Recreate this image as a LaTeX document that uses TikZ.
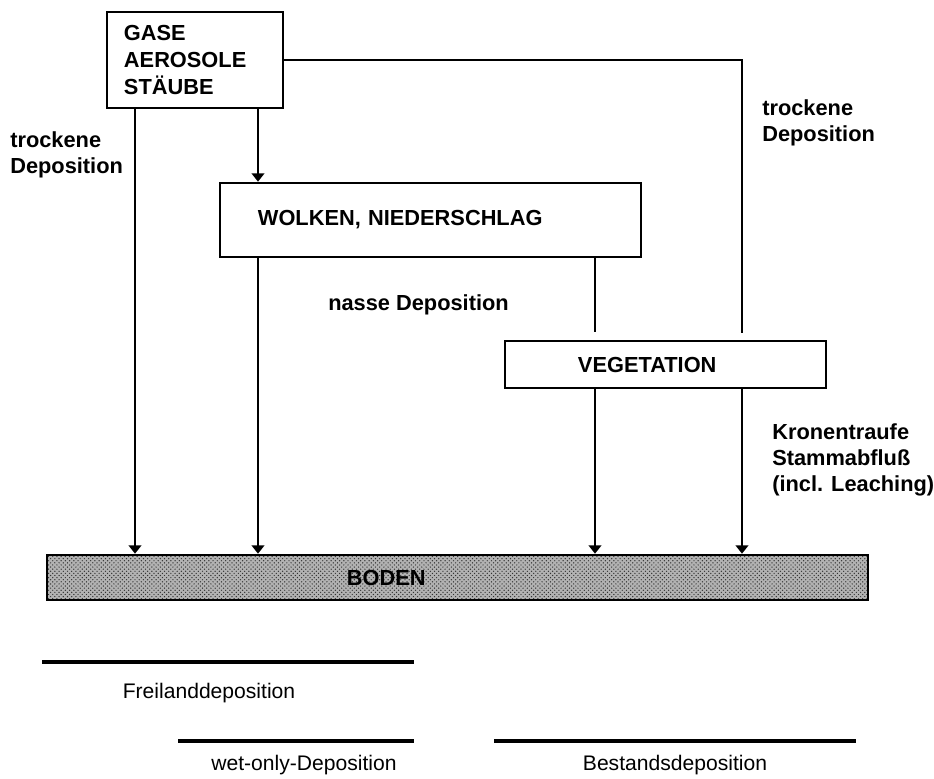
\documentclass[tikz,border=0pt]{standalone}
\usepackage{fontspec}
\setmainfont{Liberation Sans}
\usetikzlibrary{arrows.meta,patterns}

\newcommand{\lblfont}{\fontsize{15.5pt}{18.5pt}\selectfont\bfseries}
\newcommand{\capfont}{\fontsize{15pt}{18pt}\selectfont}

\tikzset{
  box/.style={draw, line width=1.8pt, align=left, inner ysep=0pt, font=\lblfont},
  arr/.style={line width=1.6pt, -{Triangle[width=9pt,length=6pt]}},
  plain/.style={line width=1.6pt},
  txt/.style={inner sep=0pt, align=left, font=\lblfont},
  bar/.style={line width=2.6pt},
}

\begin{document}
\begin{tikzpicture}[x=0.025cm, y=-0.025cm]
\useasboundingbox (0,0) rectangle (934,778);

% boxes
\node[box, minimum width=4.4cm, minimum height=2.4cm, inner xsep=0.425cm,
  text width=3.55cm, font=\fontsize{15.5pt}{19.1pt}\selectfont\bfseries]
  (src) at (195,60) {GASE\\AEROSOLE\\STÄUBE};
\node[box, minimum width=10.525cm, minimum height=1.85cm, inner xsep=0.95cm,
  text width=8.625cm] (wolken) at (430.5,220) {WOLKEN, NIEDERSCHLAG};
\node[box, minimum width=8.025cm, minimum height=1.175cm, inner xsep=1.825cm,
  text width=4.375cm] (veg) at (665.5,364.5) {VEGETATION};
\node[box, minimum width=20.525cm, minimum height=1.125cm, inner xsep=7.5cm,
  text width=5.525cm, preaction={fill=gray!60}, pattern=crosshatch dots,
  pattern color=black!80] (boden) at (457.5,577.5) {BODEN};

% columns
\coordinate (colA) at (135,0);
\coordinate (colB) at (258,0);
\coordinate (colC) at (595,0);
\coordinate (colD) at (742,0);
\coordinate (vegtopC) at (595,332);
\coordinate (vegtopD) at (742,333);

% connectors
\draw[arr] (src.south -| colA) -- (boden.north -| colA);
\draw[arr] (src.south -| colB) -- (wolken.north -| colB);
\draw[arr] (wolken.south -| colB) -- (boden.north -| colB);
\draw[plain] (wolken.south -| colC) -- (vegtopC);
\draw[plain] (src.east) -| (vegtopD);
\draw[arr] (veg.south -| colC) -- (boden.north -| colC);
\draw[arr] (veg.south -| colD) -- (boden.north -| colD);

% labels
\node[txt, anchor=north west] (trockenL) at (10,131) {trockene\\Deposition};
\node[txt, anchor=north west] (trockenR) at (762,99) {trockene\\Deposition};
\node[txt, anchor=base west] (nass) at (328,310) {nasse Deposition};
\node[txt, anchor=north west] (krone) at (772,423) {Kronentraufe\\Stammabfluß\\(incl. Leaching)};

% bottom bars
\draw[bar] (42,662) -- (414,662);
\draw[bar] (178,741) -- (414,741);
\draw[bar] (494,741) -- (856,741);
\node[font=\capfont, inner sep=0pt] (frei) at (209,693) {Freilanddeposition};
\node[font=\capfont, inner sep=0pt] (wet) at (304,765) {wet-only-Deposition};
\node[font=\capfont, inner sep=0pt] (bestand) at (675,765) {Bestandsdeposition};

\end{tikzpicture}
\end{document}
